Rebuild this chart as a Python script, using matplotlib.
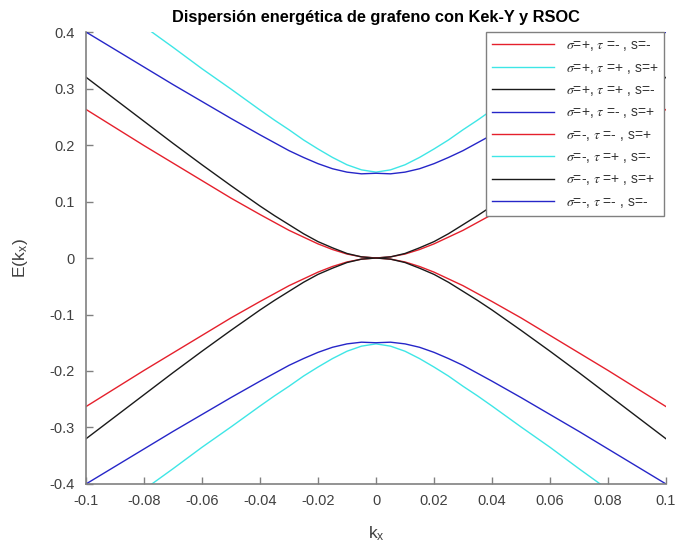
import numpy as np
import matplotlib
matplotlib.use('Agg')
import matplotlib.pyplot as plt

plt.rcParams['font.family'] = ['Liberation Sans', 'DejaVu Sans']
plt.rcParams['mathtext.fontset'] = 'stix'

# k_x values
k = [-0.1, -0.09, -0.08, -0.07, -0.06, -0.05, -0.04, -0.035, -0.03, -0.025, -0.02, -0.015, -0.01, -0.005,
     0.0, 0.005, 0.01, 0.015, 0.02, 0.025, 0.03, 0.035, 0.04, 0.05, 0.06, 0.07, 0.08, 0.09, 0.1]

# bands
e_red_up = [0.263, 0.231, 0.199, 0.168, 0.137, 0.106, 0.077, 0.063, 0.049, 0.037, 0.025, 0.015, 0.007, 0.002,
            0.0, 0.002, 0.007, 0.015, 0.025, 0.037, 0.049, 0.063, 0.077, 0.106, 0.137, 0.168, 0.199, 0.231, 0.263]
e_cyan_up = [0.485, 0.448, 0.410, 0.373, 0.335, 0.299, 0.262, 0.244, 0.227, 0.209, 0.193, 0.178, 0.165, 0.156,
             0.152, 0.156, 0.165, 0.178, 0.193, 0.209, 0.227, 0.244, 0.262, 0.299, 0.335, 0.373, 0.410, 0.448, 0.485]
e_black_up = [0.320, 0.281, 0.242, 0.203, 0.165, 0.128, 0.092, 0.075, 0.059, 0.043, 0.029, 0.018, 0.008, 0.002,
              0.0, 0.002, 0.008, 0.018, 0.029, 0.043, 0.059, 0.075, 0.092, 0.128, 0.165, 0.203, 0.242, 0.281, 0.320]
e_blue_up = [0.400, 0.369, 0.338, 0.307, 0.277, 0.247, 0.218, 0.204, 0.190, 0.178, 0.167, 0.158, 0.152, 0.149,
             0.150, 0.149, 0.152, 0.158, 0.167, 0.178, 0.190, 0.204, 0.218, 0.247, 0.277, 0.307, 0.338, 0.369, 0.400]
e_red_dn = [-0.263, -0.231, -0.199, -0.168, -0.137, -0.106, -0.077, -0.063, -0.049, -0.037, -0.025, -0.015, -0.007, -0.002,
            0.0, -0.002, -0.007, -0.015, -0.025, -0.037, -0.049, -0.063, -0.077, -0.106, -0.137, -0.168, -0.199, -0.231, -0.263]
e_cyan_dn = [-0.485, -0.448, -0.410, -0.373, -0.335, -0.299, -0.262, -0.244, -0.227, -0.209, -0.193, -0.178, -0.165, -0.156,
             -0.152, -0.156, -0.165, -0.178, -0.193, -0.209, -0.227, -0.244, -0.262, -0.299, -0.335, -0.373, -0.410, -0.448, -0.485]
e_black_dn = [-0.320, -0.281, -0.242, -0.203, -0.165, -0.128, -0.092, -0.075, -0.059, -0.043, -0.029, -0.018, -0.008, -0.002,
              0.0, -0.002, -0.008, -0.018, -0.029, -0.043, -0.059, -0.075, -0.092, -0.128, -0.165, -0.203, -0.242, -0.281, -0.320]
e_blue_dn = [-0.400, -0.369, -0.338, -0.307, -0.277, -0.247, -0.218, -0.204, -0.190, -0.178, -0.167, -0.158, -0.152, -0.149,
             -0.150, -0.149, -0.152, -0.158, -0.167, -0.178, -0.190, -0.204, -0.218, -0.247, -0.277, -0.307, -0.338, -0.369, -0.400]

labels = [r'$\sigma$=+, $\tau$ =- , s=-',
          r'$\sigma$=+, $\tau$ =+ , s=+',
          r'$\sigma$=+, $\tau$ =+ , s=-',
          r'$\sigma$=+, $\tau$ =- , s=+',
          r'$\sigma$=-, $\tau$ =- , s=+',
          r'$\sigma$=-, $\tau$ =+ , s=-',
          r'$\sigma$=-, $\tau$ =+ , s=+',
          r'$\sigma$=-, $\tau$ =- , s=-']
bands = [e_red_up, e_cyan_up, e_black_up, e_blue_up,
         e_red_dn, e_cyan_dn, e_black_dn, e_blue_dn]
colors = ['#e5202c', '#3ee6e6', '#1a1a1a', '#2626c8',
          '#e5202c', '#3ee6e6', '#1a1a1a', '#2626c8']

fig = plt.figure(figsize=(6.75, 5.52), dpi=100)
ax = fig.add_axes([0.1274, 0.1232, 0.8593, 0.8188])

for e, c, lab in zip(bands, colors, labels):
    ax.plot(k, e, color=c, lw=1.0, label=lab)

ax.set_xlim(-0.1, 0.1)
ax.set_ylim(-0.4, 0.4)
ax.set_xticks(np.arange(-0.1, 0.1001, 0.02))
ax.set_xticklabels(['-0.1', '-0.08', '-0.06', '-0.04', '-0.02', '0',
                    '0.02', '0.04', '0.06', '0.08', '0.1'])
ax.set_yticks(np.arange(-0.4, 0.4001, 0.1))
ax.set_yticklabels(['-0.4', '-0.3', '-0.2', '-0.1', '0', '0.1', '0.2', '0.3', '0.4'])

for s in ['top', 'right']:
    ax.spines[s].set_visible(False)
for s in ['left', 'bottom']:
    ax.spines[s].set_color('#808080')
    ax.spines[s].set_linewidth(1.2)
ax.tick_params(direction='in', length=5, width=1.0, color='#808080',
               labelsize=10.5, labelcolor='#404040')
ax.tick_params(axis='x', pad=7)
ax.tick_params(axis='y', pad=8)

ax.set_title('Dispersión energética de grafeno con Kek-Y y RSOC',
             fontsize=11.8, fontweight='bold', pad=7)
ax.set_xlabel(r'k$_{\mathregular{x}}$', fontsize=12.5, color='#404040', labelpad=12)
ax.set_ylabel(r'E(k$_{\mathregular{x}}$)', fontsize=12.5, color='#404040', labelpad=14)

leg = ax.legend(loc='upper right', bbox_to_anchor=(0.997, 0.999), fontsize=10,
                handlelength=4.5, labelspacing=0.53, borderaxespad=0,
                fancybox=False, framealpha=1, borderpad=0.42, handletextpad=0.85)
leg.get_frame().set_edgecolor('#808080')
leg.get_frame().set_linewidth(1.0)
for t in leg.get_texts():
    t.set_color('#333333')

fig.savefig('out.png', dpi=100)
